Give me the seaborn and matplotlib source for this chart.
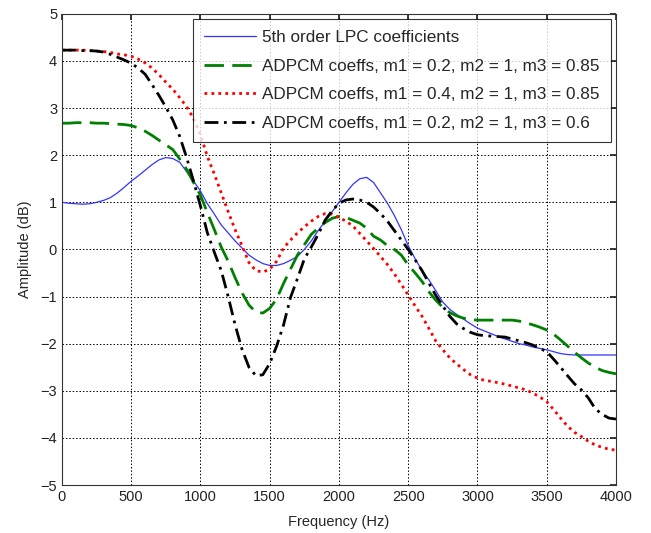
import pandas as pd
import seaborn as sns
import matplotlib
matplotlib.use("Agg")
import matplotlib.pyplot as plt

# Frequency grid (Hz), amplitudes (dB) every 50 Hz
freq = list(range(0, 4001, 50))

lpc = [1.00, 0.98, 0.97, 0.96, 0.97, 1.00, 1.04, 1.10, 1.20, 1.32,
       1.45, 1.56, 1.68, 1.80, 1.90, 1.95, 1.93, 1.85, 1.65, 1.45,
       1.24, 0.97, 0.75, 0.52, 0.35, 0.18, 0.03, -0.12, -0.22, -0.30,
       -0.34, -0.34, -0.30, -0.23, -0.15, 0.00, 0.18, 0.40, 0.60, 0.80,
       1.00, 1.20, 1.38, 1.50, 1.53, 1.42, 1.20, 0.98, 0.72, 0.42,
       0.08, -0.20, -0.45, -0.65, -0.88, -1.12, -1.27, -1.38, -1.48, -1.58,
       -1.67, -1.73, -1.79, -1.85, -1.90, -1.95, -2.00, -2.03, -2.07, -2.10,
       -2.13, -2.17, -2.21, -2.23, -2.24, -2.24, -2.24, -2.24, -2.24, -2.24,
       -2.24]

adpcm_a = [2.68, 2.68, 2.69, 2.69, 2.69, 2.68, 2.68, 2.67, 2.66, 2.65,
           2.63, 2.58, 2.51, 2.42, 2.32, 2.22, 2.12, 1.92, 1.70, 1.42,
           1.15, 0.78, 0.42, 0.05, -0.25, -0.60, -0.92, -1.18, -1.33, -1.35,
           -1.25, -1.05, -0.72, -0.42, -0.12, 0.10, 0.32, 0.45, 0.57, 0.66,
           0.70, 0.68, 0.62, 0.56, 0.45, 0.28, 0.20, 0.08, 0.00, -0.12,
           -0.33, -0.50, -0.68, -0.90, -1.08, -1.23, -1.34, -1.41, -1.46, -1.49,
           -1.50, -1.50, -1.50, -1.50, -1.50, -1.50, -1.52, -1.56, -1.60, -1.65,
           -1.71, -1.80, -1.92, -2.05, -2.18, -2.30, -2.41, -2.50, -2.57, -2.61,
           -2.64]

adpcm_b = [4.23, 4.23, 4.23, 4.23, 4.22, 4.21, 4.20, 4.18, 4.15, 4.13,
           4.10, 4.04, 3.96, 3.85, 3.71, 3.55, 3.40, 3.22, 3.03, 2.78,
           2.43, 1.97, 1.60, 1.20, 0.80, 0.42, 0.08, -0.28, -0.45, -0.48,
           -0.42, -0.25, 0.03, 0.20, 0.35, 0.48, 0.60, 0.70, 0.76, 0.75,
           0.68, 0.60, 0.50, 0.34, 0.18, 0.02, -0.15, -0.32, -0.52, -0.74,
           -0.97, -1.20, -1.42, -1.68, -1.95, -2.13, -2.30, -2.43, -2.55, -2.66,
           -2.73, -2.78, -2.80, -2.83, -2.86, -2.90, -2.94, -2.98, -3.05, -3.13,
           -3.23, -3.40, -3.58, -3.75, -3.88, -3.97, -4.07, -4.15, -4.20, -4.24,
           -4.26]

adpcm_c = [4.23, 4.23, 4.23, 4.22, 4.22, 4.21, 4.19, 4.14, 4.08, 4.02,
           3.95, 3.85, 3.72, 3.50, 3.27, 3.02, 2.75, 2.40, 1.95, 1.45,
           0.92, 0.35, -0.06, -0.45, -1.00, -1.60, -2.12, -2.50, -2.68, -2.66,
           -2.42, -2.05, -1.60, -1.02, -0.62, -0.20, 0.05, 0.32, 0.62, 0.82,
           0.98, 1.05, 1.07, 1.05, 1.00, 0.90, 0.76, 0.60, 0.40, 0.20,
           0.00, -0.22, -0.45, -0.72, -0.98, -1.20, -1.42, -1.58, -1.68, -1.76,
           -1.81, -1.83, -1.84, -1.85, -1.86, -1.90, -1.94, -1.98, -2.03, -2.10,
           -2.17, -2.33, -2.50, -2.68, -2.85, -2.98, -3.15, -3.38, -3.50, -3.58,
           -3.60]

labels = ["5th order LPC coefficients",
          "ADPCM coeffs, m1 = 0.2, m2 = 1, m3 = 0.85",
          "ADPCM coeffs, m1 = 0.4, m2 = 1, m3 = 0.85",
          "ADPCM coeffs, m1 = 0.2, m2 = 1, m3 = 0.6"]

x_ticks = list(range(0, 4001, 500))
y_ticks = list(range(-5, 6))

sns.set_theme(style="white")
plt.rcParams['font.family'] = ['Liberation Sans', 'DejaVu Sans']
plt.rcParams['xtick.direction'] = 'in'
plt.rcParams['ytick.direction'] = 'in'

fig = plt.figure(figsize=(6.51, 5.33), dpi=100)
ax = fig.add_axes([0.0952, 0.090, 0.851, 0.884])

data = pd.DataFrame({"freq": freq, "lpc": lpc, "a": adpcm_a,
                     "b": adpcm_b, "c": adpcm_c})

sns.lineplot(x="freq", y="lpc", data=data, ax=ax, color="#3333ff",
             linewidth=0.9, label=labels[0])
sns.lineplot(x="freq", y="a", data=data, ax=ax, color="#008000",
             linewidth=2.0, label=labels[1])
sns.lineplot(x="freq", y="b", data=data, ax=ax, color="#ff0000",
             linewidth=2.0, label=labels[2])
sns.lineplot(x="freq", y="c", data=data, ax=ax, color="black",
             linewidth=2.0, label=labels[3])

lines = ax.get_lines()
lines[1].set_dashes([7, 3])
lines[2].set_dashes([1, 1.5])
lines[3].set_dashes([5, 2, 1, 2])

ax.set_xlim(0, 4000)
ax.set_ylim(-5, 5)
ax.set_xticks(x_ticks)
ax.set_yticks(y_ticks)
ax.tick_params(labelsize=10.5, length=4, top=True, right=True,
               colors="#222222")
ax.grid(True, color="black", linestyle=(0, (1.5, 2)), linewidth=0.7)
for s in ax.spines.values():
    s.set_color("#333333")
    s.set_linewidth(0.8)

ax.set_xlabel("Frequency (Hz)", fontsize=10.5, labelpad=8)
ax.set_ylabel("Amplitude (dB)", fontsize=10.5, labelpad=6)

leg = ax.legend(loc="upper right", fontsize=12.3, handlelength=3.0,
                frameon=True, fancybox=False, borderaxespad=0.3,
                labelspacing=0.8, borderpad=0.65, handletextpad=0.4)
leg.get_frame().set_edgecolor("black")
leg.get_frame().set_linewidth(0.8)

fig.savefig("out.png", dpi=100, facecolor="white")
